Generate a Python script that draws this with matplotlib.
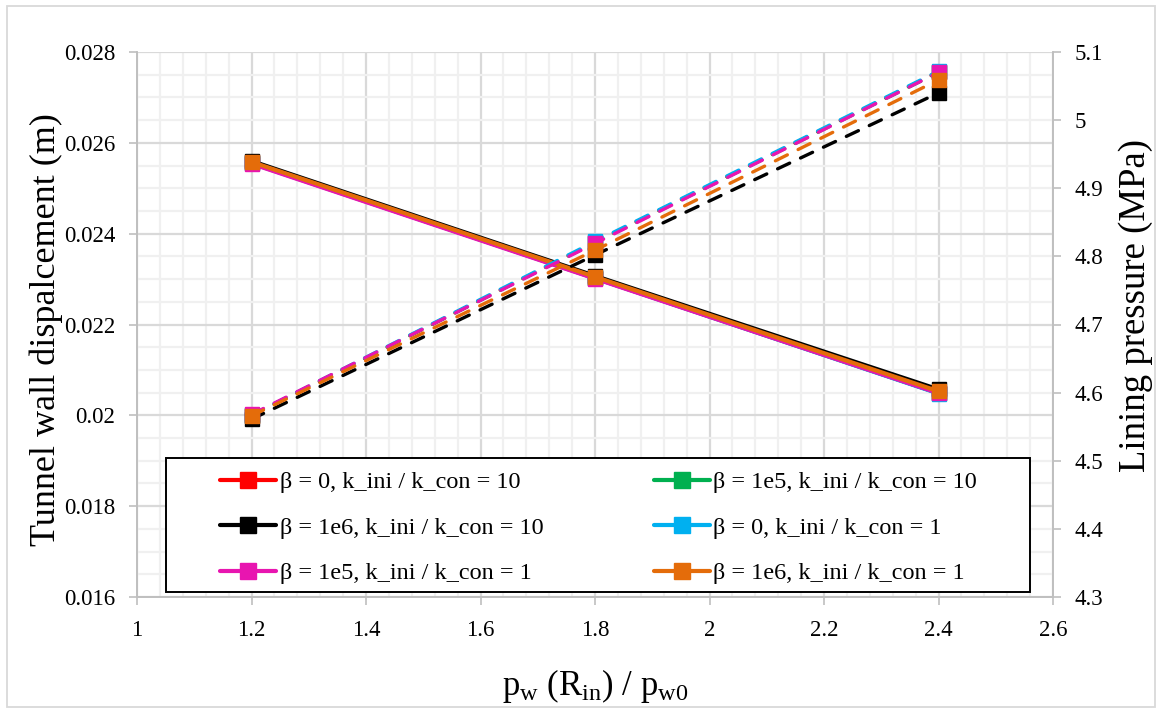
import matplotlib
matplotlib.use("Agg")
import matplotlib.pyplot as plt
from matplotlib.ticker import MultipleLocator, FuncFormatter
from matplotlib.patches import Rectangle

plt.rcParams['font.family'] = ['Liberation Serif', 'DejaVu Serif']
plt.rcParams['mathtext.fontset'] = 'custom'
plt.rcParams['mathtext.rm'] = 'Liberation Serif'
plt.rcParams['mathtext.it'] = 'Liberation Serif:italic'

W, H = 1161, 709

# water pressure ratio at the inner radius
pw_ratio = [1.2, 1.8, 2.4]

labels = [
    "β = 0, k_ini / k_con = 10",
    "β = 1e5, k_ini / k_con = 10",
    "β = 1e6, k_ini / k_con = 10",
    "β = 0, k_ini / k_con = 1",
    "β = 1e5, k_ini / k_con = 1",
    "β = 1e6, k_ini / k_con = 1",
]
colors = ["#FF0000", "#00B050", "#000000", "#00B0F0", "#E815B0", "#E46C0A"]

# tunnel wall displacement (m), solid lines, left axis
disp_b0_k10 = [0.02557, 0.02303, 0.02049]
disp_b1e5_k10 = [0.02555, 0.02302, 0.02049]
disp_b1e6_k10 = [0.02560, 0.02307, 0.02057]
disp_b0_k1 = [0.02556, 0.02302, 0.02048]
disp_b1e5_k1 = [0.02554, 0.02301, 0.02049]
disp_b1e6_k1 = [0.02558, 0.02305, 0.02053]

# lining pressure (MPa), dashed lines, right axis
pres_b0_k10 = [4.566, 4.821, 5.071]
pres_b1e5_k10 = [4.567, 4.820, 5.070]
pres_b1e6_k10 = [4.561, 4.802, 5.040]
pres_b0_k1 = [4.567, 4.822, 5.072]
pres_b1e5_k1 = [4.568, 4.819, 5.070]
pres_b1e6_k1 = [4.566, 4.809, 5.059]

disp = [disp_b0_k10, disp_b1e5_k10, disp_b1e6_k10, disp_b0_k1, disp_b1e5_k1, disp_b1e6_k1]
pres = [pres_b0_k10, pres_b1e5_k10, pres_b1e6_k10, pres_b0_k1, pres_b1e5_k1, pres_b1e6_k1]

fig = plt.figure(figsize=(W / 100, H / 100), dpi=100)
ax = fig.add_axes([137 / W, 1 - 597 / H, 916 / W, 545 / H])
ax2 = ax.twinx()

# outer chart border
fig.patches.append(Rectangle((7 / W, 2 / H), 1148 / W, 701 / H,
                             transform=fig.transFigure, fill=False,
                             edgecolor="#D9D9D9", linewidth=1.3))

handles = []
for d, p, c, lab in zip(disp, pres, colors, labels):
    h, = ax.plot(pw_ratio, d, color=c, lw=3, marker="s", ms=10,
                 markeredgecolor=c, label=lab, solid_capstyle="round")
    ax2.plot(pw_ratio, p, color=c, lw=2.4, marker="s", ms=10,
             markeredgecolor=c, linestyle=(0, (4, 3.6)),
             dash_capstyle="round")
    handles.append(h)

gfmt = FuncFormatter(lambda v, pos: f"{round(v, 6):g}")

ax.set_xlim(1, 2.6)
ax.set_ylim(0.016, 0.028)
ax.xaxis.set_major_locator(MultipleLocator(0.2))
ax.xaxis.set_minor_locator(MultipleLocator(0.04))
ax.yaxis.set_major_locator(MultipleLocator(0.002))
ax.yaxis.set_minor_locator(MultipleLocator(0.0005))
ax.xaxis.set_major_formatter(gfmt)
ax.yaxis.set_major_formatter(gfmt)
ax.grid(which="major", color="#D9D9D9", lw=1.6)
ax.grid(which="minor", color="#F0F0F0", lw=1.6)
ax.set_axisbelow(True)

ax2.set_ylim(4.3, 5.1)
ax2.yaxis.set_major_locator(MultipleLocator(0.1))
ax2.yaxis.set_major_formatter(gfmt)

for a in (ax, ax2):
    for s in a.spines.values():
        s.set_color("#BFBFBF")
        s.set_linewidth(1.2)
    a.spines["top"].set_visible(False)
    a.tick_params(which="major", labelsize=16.5, length=5.5, color="#BFBFBF", width=1.2)
    a.tick_params(which="minor", length=0)
ax.tick_params(axis="x", pad=11)
ax.tick_params(axis="y", pad=10)
ax2.tick_params(axis="y", pad=10)

ax.set_xlabel(r"p$_{\rm w}$ (R$_{\rm in}$) / p$_{\rm w0}$", fontsize=25)
ax.xaxis.set_label_coords(0.5, -(686 - 597) / 545)
ax.xaxis.label.set_va("center")
ax.set_ylabel("Tunnel wall dispalcement (m)", fontsize=26)
ax.yaxis.set_label_coords((46 - 137) / 916, (597 - 330) / 545)
ax.yaxis.label.set_va("center")
ax2.set_ylabel("Lining pressure (MPa)", fontsize=26.5)
ax2.yaxis.set_label_coords((1136 - 137) / 916, (597 - 306) / 545)
ax2.yaxis.label.set_va("center")

# legend, filled row by row, inside a plain black box
order = [0, 2, 4, 1, 3, 5]
fig.patches.append(Rectangle((166 / W, 1 - 592 / H), 864 / W, 134 / H,
                             transform=fig.transFigure, facecolor="white",
                             edgecolor="black", linewidth=1.4, zorder=5))
leg = fig.legend(handles=[handles[i] for i in order], ncol=2,
                 loc="upper left", bbox_to_anchor=(220 / W, 1 - 471 / H),
                 fontsize=17.5, frameon=False, handlelength=2.3,
                 handletextpad=0.15, borderpad=0, labelspacing=0.97,
                 markerscale=1.1, columnspacing=4.55, borderaxespad=0)
leg.set_zorder(6)

fig.savefig("out.png", dpi=100)
